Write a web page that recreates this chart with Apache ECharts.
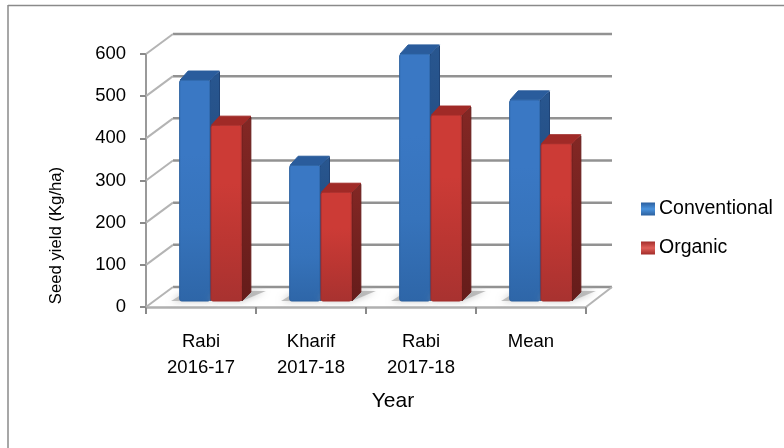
<!DOCTYPE html>
<html><head><meta charset="utf-8">
<style>html,body{margin:0;padding:0;background:#fff}#c{width:784px;height:448px}</style>
<script src="https://cdn.jsdelivr.net/npm/echarts@6/dist/echarts.min.js"></script>
</head><body><div id="c"></div>
<script>
var categories = ['Rabi\n2016-17', 'Kharif\n2017-18', 'Rabi\n2017-18', 'Mean'];
var conventional = [524, 322, 586, 477];
var organic = [417, 258, 441, 373];
var yTicks = [0, 100, 200, 300, 400, 500, 600];

var FONT = '"Liberation Sans", Arial, sans-serif';
var DEPTH_X = 26, DEPTH_Y = 20;          // wall depth
var BAR_DX = 9, BAR_DY = 9;              // bar depth
var SHIFT_X = 9.5, SHIFT_Y = -6;         // bars stand mid-floor

function grad(stops, h) {
  return new echarts.graphic.LinearGradient(0, 0, h ? 1 : 0, h ? 0 : 1,
    stops.map(function (c, i) { return { offset: i / (stops.length - 1), color: c }; }));
}
var palette = {
  blue: { front: ['#3a78c4', '#3a78c4', '#3673bb', '#2e66a8'], side: ['#28568f', '#1f4477'], top: '#2a5c9c', edge: '#2b609f',
          legend: ['#2b5f9f', '#4b93dd', '#2c609e'] },
  red:  { front: ['#cc3b36', '#cc3b36', '#bb3632', '#a83230'], side: ['#832724', '#651c1a'], top: '#a02a27', edge: '#a32d2a',
          legend: ['#a32d2a', '#e0605a', '#a12b28'] }
};

function barRenderer(col, pal) {
  return function (params, api) {
    var cat = api.value(0), v = api.value(1);
    var band = api.size([1, 0])[0], w = band * 0.285;
    var b = api.coord([cat, 0]), t = api.coord([cat, v]);
    var x = b[0] + SHIFT_X + (col === 0 ? -w : 0);
    var yb = b[1] + SHIFT_Y, yt = t[1] + SHIFT_Y;
    var sx0 = col === 0 ? x - 8 : x, sx1 = col === 0 ? x + w : x + w + 24;
    return { type: 'group', children: [
      { type: 'polygon', silent: true, z2: 0,
        shape: { points: [[sx0, yb], [x + w, yb], [sx1, yb - 10], [x + 8, yb - 10]] },
        style: { fill: 'rgba(175,175,175,0.8)', shadowBlur: 7, shadowColor: 'rgba(170,170,170,0.9)' } },
      { type: 'polygon', silent: true, z2: 1,
        shape: { points: [[x + w, yt], [x + w + BAR_DX, yt - BAR_DY + 1], [x + w + BAR_DX, yb - BAR_DY], [x + w, yb]] },
        style: { fill: grad(pal.side), stroke: pal.side[1], lineWidth: 1, lineJoin: 'round' } },
      { type: 'polygon', silent: true, z2: 1,
        shape: { points: [[x + 1, yt], [x + BAR_DX, yt - BAR_DY], [x + w + BAR_DX, yt - BAR_DY], [x + w, yt]] },
        style: { fill: pal.top, stroke: pal.top, lineWidth: 1, lineJoin: 'round' } },
      { type: 'rect', silent: true, z2: 2,
        shape: { x: x + 0.5, y: yt, width: w - 1, height: yb - yt, r: 2 },
        style: { fill: grad(pal.front), stroke: pal.edge, lineWidth: 1 } }
    ]};
  };
}
function wallRenderer(params, api) {
  var y = api.coord([0, api.value(0)])[1], cs = params.coordSys;
  var x0 = cs.x, x1 = cs.x + cs.width;
  return { type: 'group', silent: true, children: [
    { type: 'line', shape: { x1: x0 + DEPTH_X + 1, y1: y - DEPTH_Y, x2: x1 + DEPTH_X, y2: y - DEPTH_Y },
      style: { stroke: '#929292', lineWidth: 2.5 } },
    { type: 'line', shape: { x1: x0, y1: y, x2: x0 + DEPTH_X + 1, y2: y - DEPTH_Y },
      style: { stroke: '#b4b4b4', lineWidth: 2 } }
  ]};
}
function floorRenderer(params, api) {
  var cs = params.coordSys, yb = cs.y + cs.height, x1 = cs.x + cs.width;
  return { type: 'line', silent: true,
    shape: { x1: x1, y1: yb, x2: x1 + DEPTH_X, y2: yb - DEPTH_Y },
    style: { stroke: '#b4b4b4', lineWidth: 2 } };
}

var chart = echarts.init(document.getElementById('c'), null, { renderer: 'canvas' });
chart.setOption({
  animation: false,
  backgroundColor: '#fff',
  tooltip: { show: false },
  graphic: [
    { type: 'line', silent: true, shape: { x1: 8, y1: 5.5, x2: 784, y2: 5.5 }, style: { stroke: '#8a8a8a', lineWidth: 1.5 } },
    { type: 'line', silent: true, shape: { x1: 8, y1: 5, x2: 8, y2: 448 }, style: { stroke: '#8a8a8a', lineWidth: 1.5 } }
  ],
  grid: { left: 146, top: 54, width: 440, height: 253, containLabel: false },
  legend: {
    orient: 'vertical', left: 636, top: 194, itemWidth: 14, itemHeight: 13, itemGap: 19,
    selectedMode: false, icon: 'rect',
    textStyle: { fontFamily: FONT, fontSize: 19.5, color: '#000', padding: [0, 0, 0, -1] },
    data: ['Conventional', 'Organic']
  },
  xAxis: {
    type: 'category', data: categories,
    name: 'Year', nameLocation: 'middle', nameGap: 84,
    nameTextStyle: { fontFamily: FONT, fontSize: 21, color: '#000', padding: [0, 0, 0, 54] },
    axisLine: { lineStyle: { color: '#b0b0b0', width: 2.5 } },
    axisTick: { show: true, alignWithLabel: false, length: 7, lineStyle: { color: '#8a8a8a', width: 2 } },
    axisLabel: { fontFamily: FONT, fontSize: 18.5, color: '#000', margin: 22, lineHeight: 26, interval: 0 },
    splitLine: { show: false }
  },
  yAxis: {
    type: 'value', min: 0, max: 600, interval: 100,
    name: 'Seed yield (Kg/ha)', nameLocation: 'middle', nameGap: 81, nameRotate: 90,
    nameTextStyle: { fontFamily: FONT, fontSize: 16.7, color: '#000', padding: [0, 110, 0, 0] },
    axisLine: { show: true, lineStyle: { color: '#9a9a9a', width: 2 } },
    axisTick: { show: true, length: 6, lineStyle: { color: '#8a8a8a', width: 2 } },
    axisLabel: { fontFamily: FONT, fontSize: 18.5, color: '#000', margin: 20, padding: [9, 0, 0, 0] },
    splitLine: { show: false }
  },
  series: [
    { type: 'custom', name: 'wall', silent: true, data: yTicks.map(function (v) { return [v]; }),
      encode: { y: 0 }, renderItem: wallRenderer, z: 1 },
    { type: 'custom', name: 'floor', silent: true, data: [[0]], encode: { y: 0 }, renderItem: floorRenderer, z: 1 },
    { type: 'custom', name: 'Conventional', z: 2,
      data: conventional.map(function (v, i) { return [i, v]; }), encode: { x: 0, y: 1 },
      itemStyle: { color: grad(palette.blue.legend) }, renderItem: barRenderer(0, palette.blue) },
    { type: 'custom', name: 'Organic', z: 3,
      data: organic.map(function (v, i) { return [i, v]; }), encode: { x: 0, y: 1 },
      itemStyle: { color: grad(palette.red.legend) }, renderItem: barRenderer(1, palette.red) }
  ]
});
</script></body></html>
